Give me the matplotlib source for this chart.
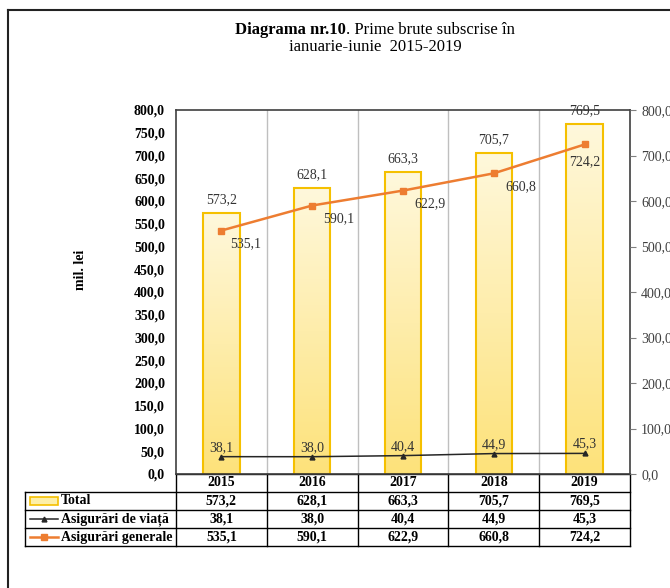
import matplotlib
matplotlib.use("Agg")
import matplotlib.pyplot as plt
import numpy as np
from matplotlib.lines import Line2D
from matplotlib.patches import Rectangle
from matplotlib.colors import LinearSegmentedColormap

years = ["2015", "2016", "2017", "2018", "2019"]
total = [573.2, 628.1, 663.3, 705.7, 769.5]
viata = [38.1, 38.0, 40.4, 44.9, 45.3]
generale = [535.1, 590.1, 622.9, 660.8, 724.2]
series_labels = ["Total", "Asigurări de viață", "Asigurări generale"]

def fmt(v):
    return f"{v:.1f}".replace(".", ",")

plt.rcParams['font.family'] = ['Liberation Serif', 'DejaVu Serif']

W, H = 670, 588
fig = plt.figure(figsize=(W / 100, H / 100), dpi=100)

def fx(px):
    return px / W

def fy(py):
    return 1 - py / H

L, R, T, B = 176, 630, 110, 474
ax = fig.add_axes([fx(L), fy(B), fx(R) - fx(L), fy(T) - fy(B)])
x = np.arange(len(years))

# vertical grid between categories
for xv in x[:-1] + 0.5:
    ax.axvline(xv, color="#BFBFBF", lw=1, zorder=0)

# bars with gradient
bw = 0.40
grad = np.linspace(0, 1, 256).reshape(-1, 1)
cmap = LinearSegmentedColormap.from_list("yel", ["#FDE27A", "#FFF8DC"])
for xi, v in zip(x, total):
    ax.imshow(grad, extent=(xi - bw / 2, xi + bw / 2, 0, v), origin="lower",
              cmap=cmap, aspect="auto", zorder=1)
ax.bar(x, total, width=bw, facecolor="none", edgecolor="#F5C000", lw=1.5, zorder=2)
ax.set_xlim(-0.5, len(years) - 0.5)
ax.set_ylim(0, 800)
for xi, v in zip(x, total):
    ax.annotate(fmt(v), (xi, v), xytext=(0, 5), textcoords="offset points",
                ha="center", va="bottom", fontsize=10, color="#333333", zorder=5)

# lines
ax.plot(x, generale, color="#ED7D31", lw=1.8, marker="s", ms=5, zorder=4)
ax.plot(x, viata, color="#262626", lw=1.1, marker="^", ms=3.5, zorder=4)

gen_offsets = [(6, -5), (8, -5), (8, -5), (8, -5), (0, -8)]
gen_ha = ["left", "left", "left", "left", "center"]
for xi, v, off, ha in zip(x, generale, gen_offsets, gen_ha):
    ax.annotate(fmt(v), (xi, v), xytext=off, textcoords="offset points",
                ha=ha, va="top", fontsize=10, color="#333333", zorder=5)
for xi, v in zip(x, viata):
    ax.annotate(fmt(v), (xi, v), xytext=(0, 2), textcoords="offset points",
                ha="center", va="bottom", fontsize=10, color="#333333", zorder=5)

# left axis
ax.set_yticks(np.arange(0, 801, 50))
ax.set_yticklabels([fmt(t) for t in np.arange(0, 801, 50)], fontweight="bold", fontsize=10)
ax.tick_params(axis="y", length=0, pad=8)
ax.set_xticks([])
for s in ax.spines.values():
    s.set_color("#404040")
    s.set_linewidth(1.2)
ax.set_ylabel("mil. lei", fontweight="bold", fontsize=10)
ax.yaxis.set_label_coords((87 - L) / (R - L), (B - 270) / (B - T))

# right axis
ax2 = ax.twinx()
ax2.set_ylim(0, 800)
ax2.set_yticks(np.arange(0, 801, 100))
ax2.set_yticklabels([fmt(t) for t in np.arange(0, 801, 100)], fontsize=10, color="#404040")
ax2.tick_params(axis="y", length=4, color="#808080", pad=4)
for s in ax2.spines.values():
    s.set_visible(False)

# table below axes, in axes fraction
tr = ax.transAxes
ah = B - T
rows_px = [474, 492, 510, 528, 546]
rows = [(B - p) / ah for p in rows_px]
left_col = (25 - L) / (R - L)
n = len(years)
lc = "#000000"
ax.add_line(Line2D([0, 1], [rows[0]] * 2, transform=tr, color=lc, lw=1, clip_on=False))
for r in rows[1:]:
    ax.add_line(Line2D([left_col, 1], [r, r], transform=tr, color=lc, lw=1, clip_on=False))
for i in range(n + 1):
    ax.add_line(Line2D([i / n, i / n], [rows[0], rows[-1]], transform=tr, color=lc, lw=1, clip_on=False))
ax.add_line(Line2D([left_col, left_col], [rows[1], rows[-1]], transform=tr, color=lc, lw=1, clip_on=False))

def mid(a, b):
    return (a + b) / 2

for i, y in enumerate(years):
    ax.text((i + 0.5) / n, mid(rows[0], rows[1]), y, transform=tr, ha="center", va="center",
            fontsize=10, fontweight="bold", clip_on=False)
for r, vals in enumerate([total, viata, generale]):
    yc = mid(rows[r + 1], rows[r + 2])
    for i, v in enumerate(vals):
        ax.text((i + 0.5) / n, yc, fmt(v), transform=tr, ha="center", va="center",
                fontsize=10, fontweight="bold", clip_on=False)

# row labels with legend keys
lx0 = (30 - L) / (R - L)
lx1 = (58 - L) / (R - L)
tx = (61 - L) / (R - L)
px_h = 1 / ah
yc = mid(rows[1], rows[2])
ax.add_patch(Rectangle((lx0, yc - 4 * px_h), lx1 - lx0, 8 * px_h, transform=tr,
                       facecolor="#FDEFA8", edgecolor="#F5C000", lw=1.2, clip_on=False))
ax.text(tx, yc, series_labels[0], transform=tr, ha="left", va="center",
        fontsize=10, fontweight="bold", clip_on=False)
yc = mid(rows[2], rows[3])
ax.add_line(Line2D([lx0, lx1], [yc, yc], transform=tr, color="#262626", lw=1.1,
                   clip_on=False))
ax.add_line(Line2D([mid(lx0, lx1)], [yc], transform=tr, color="#262626", marker="^", ms=3.5,
                   clip_on=False))
ax.text(tx, yc, series_labels[1], transform=tr, ha="left", va="center",
        fontsize=10, fontweight="bold", clip_on=False)
yc = mid(rows[3], rows[4])
ax.add_line(Line2D([lx0, lx1], [yc, yc], transform=tr, color="#ED7D31", lw=1.8,
                   clip_on=False))
ax.add_line(Line2D([mid(lx0, lx1)], [yc], transform=tr, color="#ED7D31", marker="s", ms=5,
                   clip_on=False))
ax.text(tx, yc, series_labels[2], transform=tr, ha="left", va="center",
        fontsize=10, fontweight="bold", clip_on=False)

# title (bold part + regular part)
fig.canvas.draw()
renderer = fig.canvas.get_renderer()
t1 = fig.text(0, fy(30), "Diagrama nr.10", ha="left", va="center", fontsize=12, fontweight="bold")
t2 = fig.text(0, fy(30), ". Prime brute subscrise în", ha="left", va="center", fontsize=12)
w1 = t1.get_window_extent(renderer).width
w2 = t2.get_window_extent(renderer).width
start = 375 - (w1 + w2) / 2
t1.set_x(fx(start))
t2.set_x(fx(start + w1))
fig.text(fx(375), fy(47), "ianuarie-iunie  2015-2019", ha="center", va="center", fontsize=12)

# frame
fig.add_artist(Line2D([fx(8), fx(8)], [fy(10), 0], transform=fig.transFigure, color="#222222", lw=1.5))
fig.add_artist(Line2D([fx(8), 1], [fy(10), fy(10)], transform=fig.transFigure, color="#222222", lw=1.5))

fig.savefig("out.png", dpi=100)
